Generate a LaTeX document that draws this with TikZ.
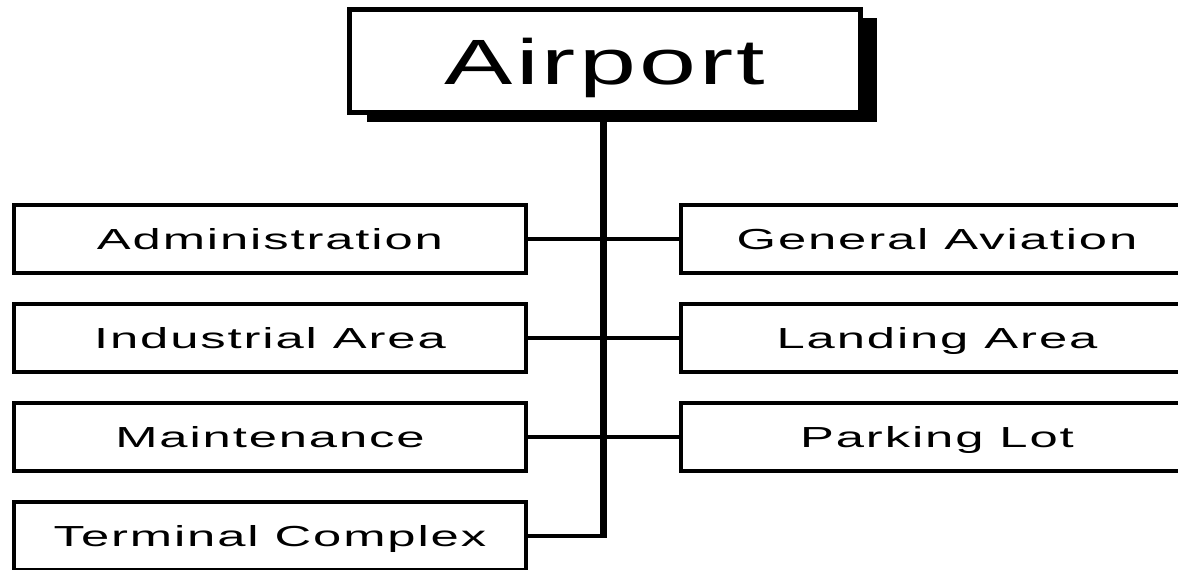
\documentclass[tikz,border=0pt]{standalone}
\usepackage{fontspec}
\newfontfamily\boxfont[FakeStretch=1.75,LetterSpace=6.5]{Liberation Sans}
\newfontfamily\titlefont[FakeStretch=1.6,LetterSpace=5]{Liberation Sans}
\tikzset{
  thickside/.style={path picture={
    \fill ([xshift=-1pt]path picture bounding box.north west) rectangle ([xshift=#1]path picture bounding box.south west);
    \fill ([xshift=1pt]path picture bounding box.north east) rectangle ([xshift=-#1]path picture bounding box.south east);}},
  unitbox/.style={draw, fill=white, line width=4pt, minimum width=512pt, minimum height=68pt,
    inner sep=0pt, text height=21pt, text depth=0pt, thickside=2pt,
    font=\boxfont\fontsize{29pt}{29pt}\selectfont},
  topbox/.style={draw, fill=white, line width=5pt, minimum width=511pt, minimum height=103pt,
    inner sep=0pt, text height=46pt, text depth=0pt, thickside=2pt,
    font=\titlefont\fontsize{64pt}{64pt}\selectfont},
  stem/.style={line width=7pt},
  link/.style={line width=3.5pt}
}
\begin{document}
\begin{tikzpicture}[x=1pt,y=-1pt]
\clip (0,0) rectangle (1178,570);
\fill[white] (0,0) rectangle (1178,570);
% shadow of the top box
\fill[black] (367,18) rectangle (877,122);
\node[topbox] (airport) at (605,61) {Airport};
\coordinate (stemtop) at (603.5,112);
\coordinate (stembot) at (603.5,538);
\draw[stem] (stemtop) -- (stembot);
% left column
\node[unitbox] (admin) at (270,239) {Administration};
\node[unitbox] (indus) at (270,338) {Industrial Area};
\node[unitbox] (maint) at (270,437) {Maintenance};
\node[unitbox] (term)  at (270,536) {Terminal Complex};
% right column
\node[unitbox] (genav) at (937,239) {General Aviation};
\node[unitbox] (land)  at (937,338) {Landing Area};
\node[unitbox] (park)  at (937,437) {Parking Lot};
% connectors
\draw[link] (admin.east) -- (genav.west);
\draw[link] (indus.east) -- (land.west);
\draw[link] (maint.east) -- (park.west);
\draw[link] (term.east) -- (term.east -| stembot);
\end{tikzpicture}
\end{document}
